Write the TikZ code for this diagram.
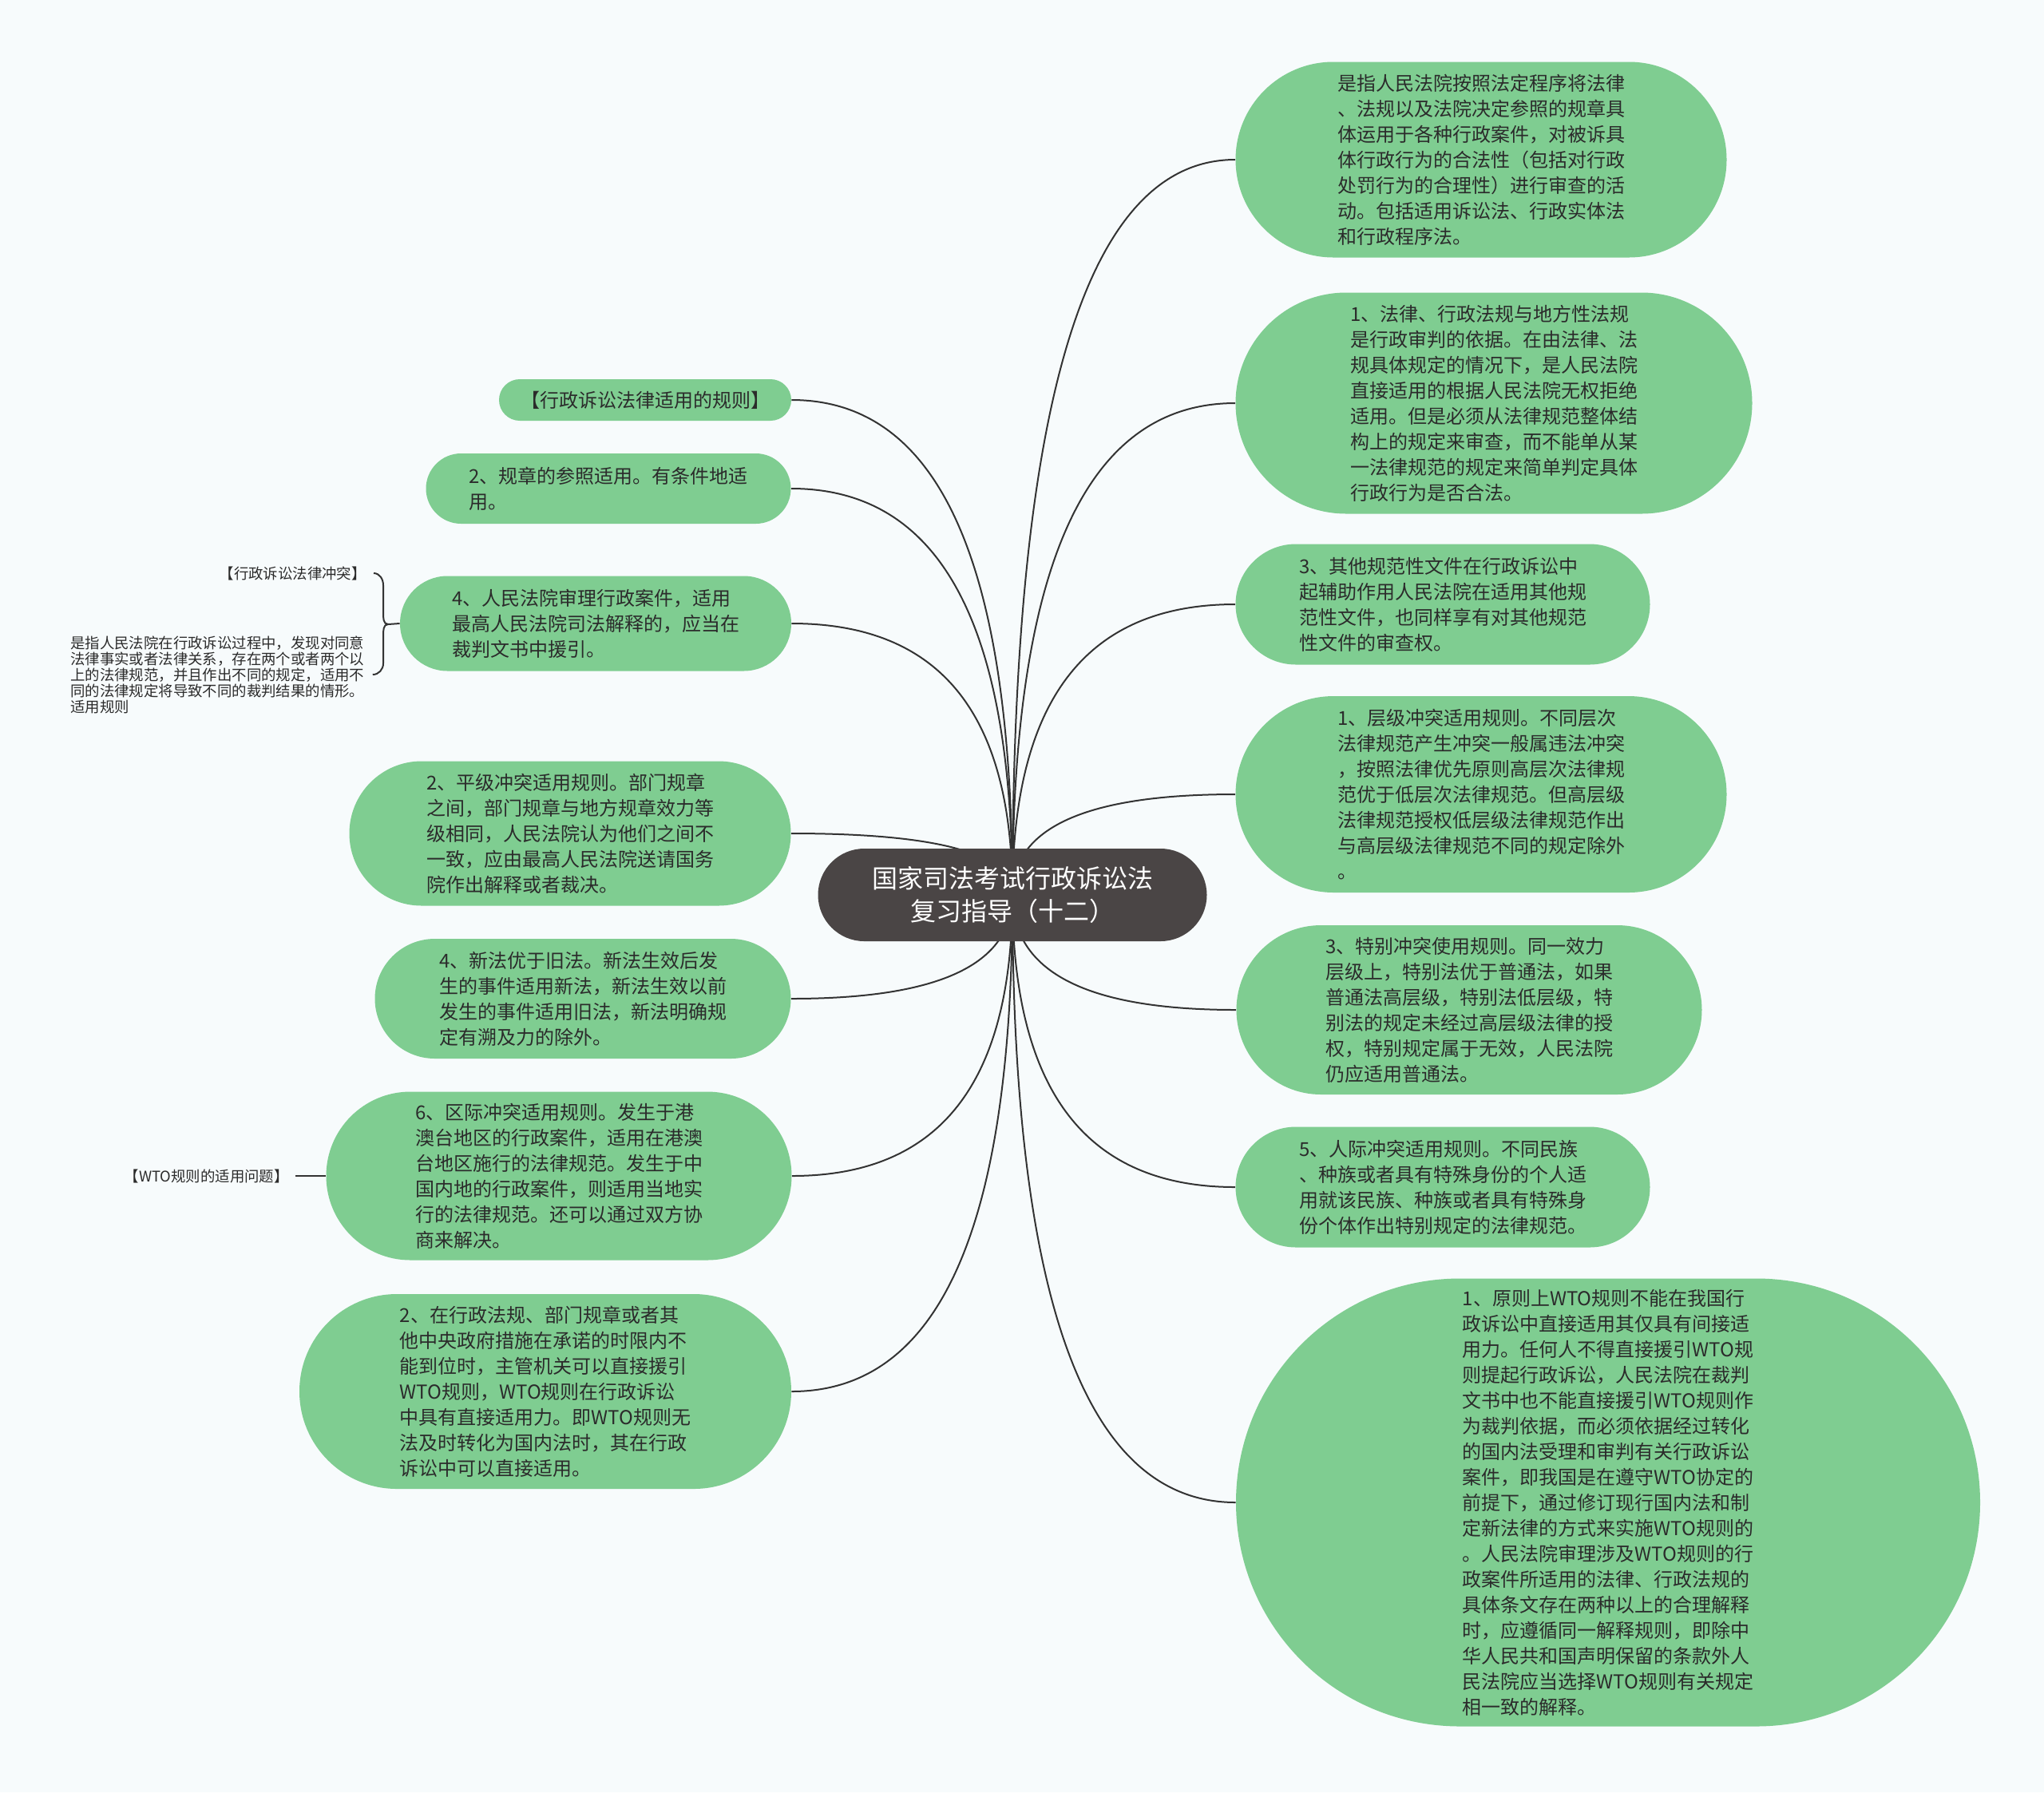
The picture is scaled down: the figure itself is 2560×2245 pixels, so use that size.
\documentclass[tikz,border=0pt]{standalone}
\usepackage{fontspec}
\setmainfont{Noto Sans CJK SC}
\usetikzlibrary{shapes.misc, calc, backgrounds}
\definecolor{pagebg}{HTML}{F7FBFC}
\definecolor{leafgreen}{HTML}{7FCD91}
\definecolor{rootgray}{HTML}{4A4545}
\definecolor{inkdark}{HTML}{2B2B2B}
\definecolor{linkgray}{HTML}{333333}

\begin{document}
\begin{tikzpicture}[x=0.5pt, y=0.5pt,
  link/.style={draw=linkgray, line width=1pt},
  branch/.style={link, to path={.. controls ($(\tikztostart)!.67!(\tikztostart |- \tikztotarget)$) and ($(\tikztotarget)!.67!(\tikztostart |- \tikztotarget)$) .. (\tikztotarget)}},
  root/.style={rounded rectangle, fill=rootgray, text=white, align=center, inner sep=2pt,
    font=\fontsize{16pt}{20.5pt}\selectfont},
  leaf/.style={rounded rectangle, fill=leafgreen, text=inkdark, align=left, inner sep=2pt,
    font=\fontsize{12pt}{16pt}\selectfont},
  note/.style={text=inkdark, inner sep=0pt, font=\fontsize{9.2pt}{10pt}\selectfont}]
  \useasboundingbox (0,0) rectangle (2560,-2245);

  % central topic
  \node[root, minimum width=247.5pt, minimum height=58pt] (root) at (1268,-1121)
    {国家司法考试行政诉讼法\\复习指导（十二）};

  % right side
  \node[leaf, minimum width=311.5pt, minimum height=122.5pt] (r1) at (1855,-200)
    {是指人民法院按照法定程序将法律\\、法规以及法院决定参照的规章具\\体运用于各种行政案件，对被诉具\\体行政行为的合法性（包括对行政\\处罚行为的合理性）进行审查的活\\动。包括适用诉讼法、行政实体法\\和行政程序法。};
  \node[leaf, minimum width=327.5pt, minimum height=138.5pt] (r2) at (1871,-505)
    {1、法律、行政法规与地方性法规\\是行政审判的依据。在由法律、法\\规具体规定的情况下，是人民法院\\直接适用的根据人民法院无权拒绝\\适用。但是必须从法律规范整体结\\构上的规定来审查，而不能单从某\\一法律规范的规定来简单判定具体\\行政行为是否合法。};
  \node[leaf, minimum width=263.5pt, minimum height=75.5pt] (r3) at (1807,-757)
    {3、其他规范性文件在行政诉讼中\\起辅助作用人民法院在适用其他规\\范性文件，也同样享有对其他规范\\性文件的审查权。};
  \node[leaf, minimum width=311.5pt, minimum height=123pt] (r4) at (1855,-995)
    {1、层级冲突适用规则。不同层次\\法律规范产生冲突一般属违法冲突\\，按照法律优先原则高层次法律规\\范优于低层次法律规范。但高层级\\法律规范授权低层级法律规范作出\\与高层级法律规范不同的规定除外\\。};
  \node[leaf, minimum width=295.5pt, minimum height=106pt] (r5) at (1840,-1265)
    {3、特别冲突使用规则。同一效力\\层级上，特别法优于普通法，如果\\普通法高层级，特别法低层级，特\\别法的规定未经过高层级法律的授\\权，特别规定属于无效，人民法院\\仍应适用普通法。};
  \node[leaf, minimum width=263.5pt, minimum height=75.5pt] (r6) at (1807,-1487)
    {5、人际冲突适用规则。不同民族\\、种族或者具有特殊身份的个人适\\用就该民族、种族或者具有特殊身\\份个体作出特别规定的法律规范。};
  \node[leaf, minimum width=470pt, minimum height=280.5pt] (r7) at (2014,-1882)
    {1、原则上WTO规则不能在我国行\\政诉讼中直接适用其仅具有间接适\\用力。任何人不得直接援引WTO规\\则提起行政诉讼，人民法院在裁判\\文书中也不能直接援引WTO规则作\\为裁判依据，而必须依据经过转化\\的国内法受理和审判有关行政诉讼\\案件，即我国是在遵守WTO协定的\\前提下，通过修订现行国内法和制\\定新法律的方式来实施WTO规则的\\。人民法院审理涉及WTO规则的行\\政案件所适用的法律、行政法规的\\具体条文存在两种以上的合理解释\\时，应遵循同一解释规则，即除中\\华人民共和国声明保留的条款外人\\民法院应当选择WTO规则有关规定\\相一致的解释。};

  % left side
  \node[leaf, minimum width=187pt, minimum height=26pt] (l1) at (808,-501)
    {【行政诉讼法律适用的规则】};
  \node[leaf, minimum width=232.5pt, minimum height=44pt] (l2) at (762,-612)
    {2、规章的参照适用。有条件地适\\用。};
  \node[leaf, minimum width=249pt, minimum height=59.5pt] (l3) at (746,-781)
    {4、人民法院审理行政案件，适用\\最高人民法院司法解释的，应当在\\裁判文书中援引。};
  \node[leaf, minimum width=280.5pt, minimum height=90.5pt] (l4) at (714,-1044)
    {2、平级冲突适用规则。部门规章\\之间，部门规章与地方规章效力等\\级相同，人民法院认为他们之间不\\一致，应由最高人民法院送请国务\\院作出解释或者裁决。};
  \node[leaf, minimum width=264.5pt, minimum height=75pt] (l5) at (730,-1251)
    {4、新法优于旧法。新法生效后发\\生的事件适用新法，新法生效以前\\发生的事件适用旧法，新法明确规\\定有溯及力的除外。};
  \node[leaf, minimum width=295.5pt, minimum height=105.5pt] (l6) at (700,-1473)
    {6、区际冲突适用规则。发生于港\\澳台地区的行政案件，适用在港澳\\台地区施行的法律规范。发生于中\\国内地的行政案件，则适用当地实\\行的法律规范。还可以通过双方协\\商来解决。};
  \node[leaf, minimum width=312pt, minimum height=122pt] (l7) at (683,-1743)
    {2、在行政法规、部门规章或者其\\他中央政府措施在承诺的时限内不\\能到位时，主管机关可以直接援引\\WTO规则，WTO规则在行政诉讼\\中具有直接适用力。即WTO规则无\\法及时转化为国内法时，其在行政\\诉讼中可以直接适用。};

  % notes on the far left
  \node[note, anchor=east, inner xsep=4.5pt] (ct1) at (468,-718) {【行政诉讼法律冲突】};
  \node[note, anchor=west, inner xsep=3pt, text width=186pt, align=left] (ct2) at (82,-845)
    {是指人民法院在行政诉讼过程中，发现对同意\\法律事实或者法律关系，存在两个或者两个以\\上的法律规范，并且作出不同的规定，适用不\\同的法律规定将导致不同的裁判结果的情形。\\适用规则};
  \node[note, anchor=east, inner xsep=4pt] (wto) at (370,-1473) {【WTO规则的适用问题】};

  \begin{scope}[on background layer]
    \fill[pagebg] (0,0) rectangle (2560,-2245);
    % branches to the right
    \draw[branch] (root.center) to (r1.west);
    \draw[branch] (root.center) to (r2.west);
    \draw[branch] (root.center) to (r3.west);
    \draw[branch] (root.center) to (r4.west);
    \draw[branch] (root.center) to (r5.west);
    \draw[branch] (root.center) to (r6.west);
    \draw[branch] (root.center) to (r7.west);
    % branches to the left
    \draw[branch] (root.center) to (l1.east);
    \draw[branch] (root.center) to (l2.east);
    \draw[branch] (root.center) to (l3.east);
    \draw[branch] (root.center) to (l4.east);
    \draw[branch] (root.center) to (l5.east);
    \draw[branch] (root.center) to (l6.east);
    \draw[branch] (root.center) to (l7.east);
    % brace joining the two notes
    \draw[link] (ct1.east) to[out=0,in=90] ++(12,-15) -- ++(0,-34) to[out=-90,in=180] ++(6,-15) coordinate (brtip)
      to[out=180,in=90] ++(-6,-14) -- ++(0,-35) to[out=-90,in=0] (ct2.east);
    \draw[link] (brtip) -- (l3.west);
    \draw[link] (wto.east) -- (l6.west);
  \end{scope}
\end{tikzpicture}
\end{document}
